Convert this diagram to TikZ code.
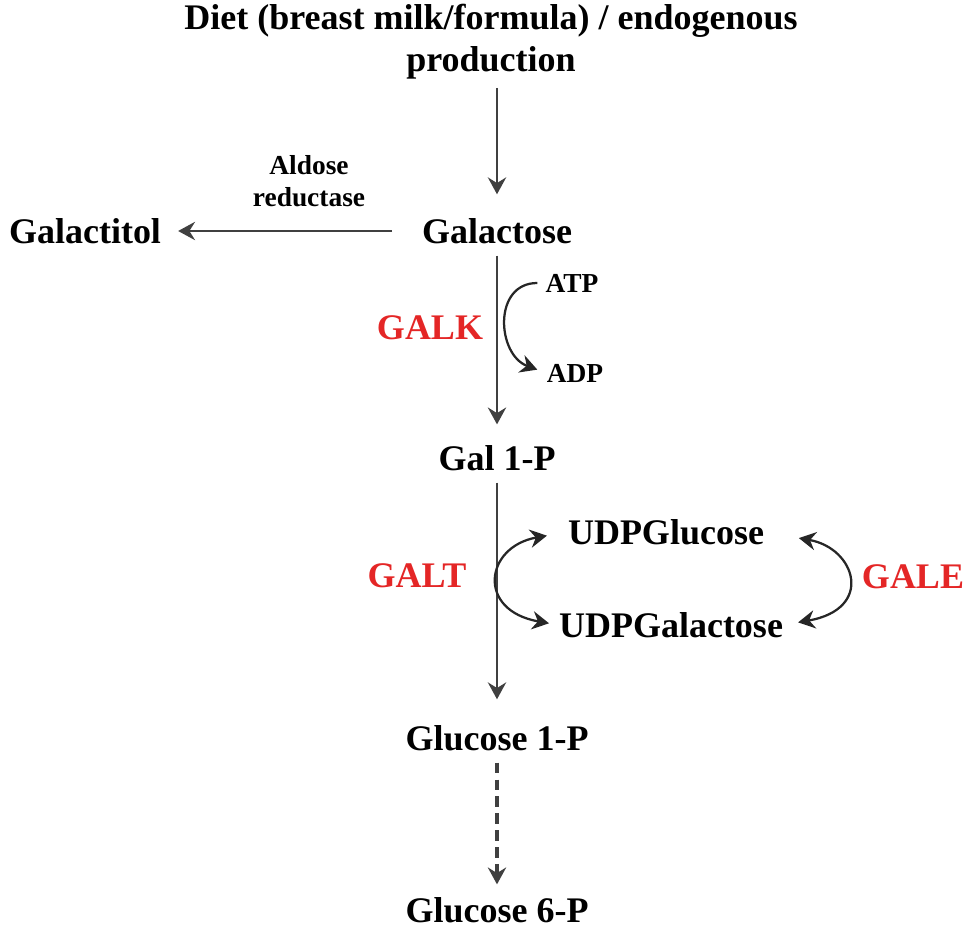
\documentclass[tikz,border=0pt]{standalone}
\usepackage{fontspec}
\setmainfont{Liberation Serif}
\usepackage{xcolor}
\usetikzlibrary{positioning, arrows.meta}

\definecolor{galred}{RGB}{228,38,38}

\begin{document}
\begin{tikzpicture}[x=0.025cm, y=0.025cm,
          every node/.style={inner sep=0, font=\bfseries\fontsize{25.6}{30}\selectfont},
          small/.style={font=\bfseries\fontsize{19.5}{23}\selectfont},
          enzyme/.style={text=galred},
          >={Stealth[length=12pt, width=13pt, inset=4pt]},
          arr/.style={->, line width=1.8pt, draw=black!75},
          curvy/.style={line width=1.6pt, draw=black!85}]
          \useasboundingbox (0,0) rectangle (968,-934);

          % main pathway
          \node[align=center] (diet) at (491,-42) {Diet (breast milk/formula) / endogenous\\production};
          \node (gal) at (497,-231) {Galactose};
          \node (galol) at (85,-231) {Galactitol};
          \node (gal1p) at (497,-458) {Gal 1-P};
          \node (glc1p) at (497,-738) {Glucose 1-P};
          \node (glc6p) at (497,-910) {Glucose 6-P};

          % side metabolites
          \node[small, align=center] (aldr) at (309,-181) {Aldose\\reductase};
          \node[small] (atp) at (572,-283) {ATP};
          \node[small] (adp) at (575,-373) {ADP};
          \node (udpglc) at (666,-532) {UDPGlucose};
          \node (udpgal) at (671,-625) {UDPGalactose};

          % enzymes
          \node[enzyme] (galk) at (430,-328) {GALK};
          \node[enzyme] (galt) at (417,-576) {GALT};
          \node[enzyme] (gale) at (913,-577) {GALE};

          \draw[arr, shorten <=5.7pt, shorten >=16.9pt] (diet.south -| gal.north) -- (gal.north);
          \draw[arr, shorten <=21pt, shorten >=12pt] (gal.west) -- (galol.east);
          \draw[arr, shorten <=8.3pt, shorten >=14.7pt] (gal.south) -- (gal1p.north);
          \draw[arr, shorten <=8.3pt, shorten >=18.3pt] (gal1p.south) -- (glc1p.north);
          \draw[arr, line width=2.2pt, dash pattern=on 7.5pt off 4.5pt,
                shorten <=8.3pt, shorten >=9pt] (glc1p.south) -- (glc6p.north);

          \draw[curvy, ->, shorten <=5.7pt, shorten >=7pt]
                (atp.west) to[out=180, in=160, looseness=1.5] (adp.west);
          \draw[curvy, <->, shorten <=15pt, shorten >=7pt]
                (udpglc.west) to[out=190, in=170, looseness=2.3] (udpgal.west);
          \draw[curvy, <->, shorten <=25pt, shorten >=10.7pt]
                (udpglc.east) to[out=-10, in=10, looseness=2.5] (udpgal.east);
        \end{tikzpicture}
\end{document}
